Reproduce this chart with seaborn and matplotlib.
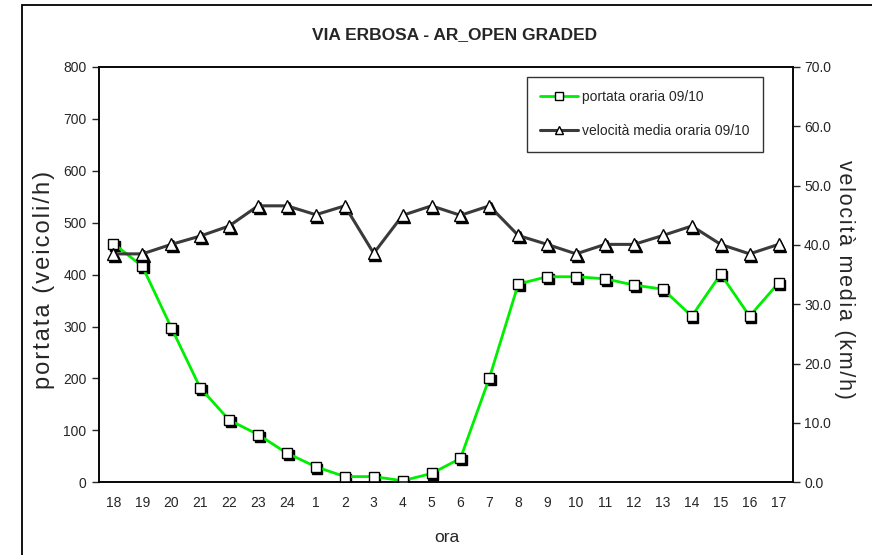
import matplotlib
matplotlib.use("Agg")
import matplotlib.pyplot as plt
import numpy as np
import pandas as pd
import seaborn as sns
from matplotlib.transforms import ScaledTranslation
from matplotlib.patches import Rectangle

# ---- data ----
ore = ['18', '19', '20', '21', '22', '23', '24', '1', '2', '3', '4', '5',
       '6', '7', '8', '9', '10', '11', '12', '13', '14', '15', '16', '17']
portata = [460, 416, 298, 182, 120, 92, 56, 30, 11, 11, 3, 17,
           46, 201, 382, 396, 396, 392, 380, 372, 320, 401, 320, 384]
velocita = [38.5, 38.5, 40.1, 41.5, 43.2, 46.6, 46.6, 45.1, 46.6, 38.6, 45.0, 46.6,
            45.0, 46.6, 41.6, 40.1, 38.5, 40.1, 40.1, 41.6, 43.2, 40.1, 38.5, 40.1]
yticks_left = [0, 100, 200, 300, 400, 500, 600, 700, 800]
yticks_right = [0, 10, 20, 30, 40, 50, 60, 70]

sns.set_style("white")
plt.rcParams['font.family'] = ['Liberation Sans', 'DejaVu Sans']

df = pd.DataFrame({'pos': np.arange(len(ore)), 'ora': ore,
                   'portata': portata, 'velocita': velocita})

W, H = 872, 555
fig = plt.figure(figsize=(W / 100, H / 100), dpi=100)
fig.patch.set_facecolor('white')

x0, x1, ytop, ybot = 99, 793, 67, 482.3
ax = fig.add_axes([x0 / W, 1 - ybot / H, (x1 - x0) / W, (ybot - ytop) / H])
ax2 = ax.twinx()

shadow = ScaledTranslation(1.6 / 100, -2.0 / 100, fig.dpi_scale_trans)

# shadows of markers
ax.plot(df['pos'], df['portata'], ls='none', marker='s', ms=7, mfc='black', mec='black',
        transform=ax.transData + shadow, zorder=2)
ax2.plot(df['pos'], df['velocita'], ls='none', marker='^', ms=8, mfc='black', mec='black',
         transform=ax2.transData + shadow, zorder=2)

sns.lineplot(data=df, x='pos', y='portata', ax=ax, color='#00ee00', lw=2,
             marker='s', ms=7, markerfacecolor='white', mec='black', mew=1,
             errorbar=None, label='portata oraria 09/10', zorder=3, legend=False)
sns.lineplot(data=df, x='pos', y='velocita', ax=ax2, color='#3a3a3a', lw=2.2,
             marker='^', ms=8, markerfacecolor='white', mec='black', mew=1,
             errorbar=None, label='velocità media oraria 09/10', zorder=3, legend=False)

for a in (ax, ax2):
    a.set_xlim(-0.5, len(ore) - 0.5)
    a.set_xlabel('')
    a.set_ylabel('')
    for s in a.spines.values():
        s.set_color('black')
        s.set_linewidth(1.1)

ax.set_ylim(0, 800)
ax.set_yticks(yticks_left)
ax.set_yticklabels([str(v) for v in yticks_left])
ax2.set_ylim(0, 70)
ax2.set_yticks(yticks_right)
ax2.set_yticklabels([f"{v:.1f}" for v in yticks_right])

ax.set_xticks(np.arange(len(ore)))
ax.set_xticklabels(ore)
ax.set_xticks(np.arange(len(ore) + 1) - 0.5, minor=True)
ax.tick_params(axis='x', which='major', length=0, pad=10, labelsize=10)
ax.tick_params(axis='x', which='minor', length=5, width=1, direction='out', color='black')
ax.tick_params(axis='y', length=5, width=1, direction='out', labelsize=10, pad=4, left=True)
ax2.tick_params(axis='y', length=5, width=1, direction='out', labelsize=10, pad=3, right=True)


def spaced(s):
    return '\u200a'.join(s)


fig.text(455 / W, 1 - 35 / H, 'VIA ERBOSA - AR_OPEN GRADED', ha='center', va='center',
         fontsize=12.5, fontweight='bold')
fig.text(44 / W, 1 - 280 / H, spaced('portata (veicoli/h)'), rotation=90, ha='center',
         va='center', fontsize=17)
fig.text(844 / W, 1 - 279 / H, spaced('velocità media (km/h)'), rotation=270, ha='center',
         va='center', fontsize=15.5)
fig.text(447 / W, 1 - 537 / H, 'ora', ha='center', va='center', fontsize=12.5)

h1, l1 = ax.get_legend_handles_labels()
h2, l2 = ax2.get_legend_handles_labels()
leg = ax2.legend(h1 + h2, l1 + l2, loc='upper left',
                 bbox_to_anchor=(527 / W, 1 - 77 / H), bbox_transform=fig.transFigure,
                 borderaxespad=0, frameon=True, fancybox=False, edgecolor='black',
                 fontsize=10, handlelength=2.7, handletextpad=0.3, labelspacing=1.45,
                 borderpad=0.95, markerscale=0.8)
leg.get_frame().set_linewidth(1)

fig.patches.append(Rectangle((22 / W, -0.02), 1.0, 1 - 5 / H + 0.02, transform=fig.transFigure,
                             fill=False, edgecolor='black', lw=1.3))

fig.savefig('out.png', dpi=100)
